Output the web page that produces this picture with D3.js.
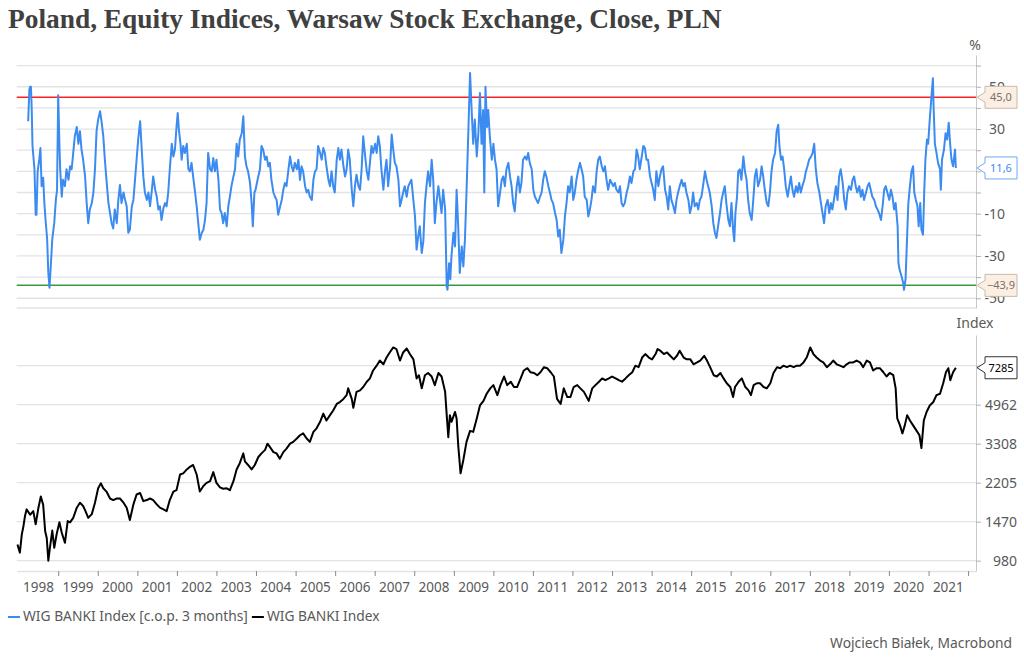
<!DOCTYPE html>
<html><head><meta charset="utf-8">
<script src="https://cdn.jsdelivr.net/npm/d3@7"></script>
<style>
body{margin:0;background:#fff}
svg{display:block}
text{font-family:"Noto Sans","Open Sans",sans-serif}
</style>
</head><body>
<svg id="chart" width="1024" height="663"></svg>
<script>
const titleText = "Poland, Equity Indices, Warsaw Stock Exchange, Close, PLN";
const sourceText = "Wojciech Białek, Macrobond";
const legendLabels = ["WIG BANKI Index [c.o.p. 3 months]", "WIG BANKI Index"];
const yearLabels = [1998,1999,2000,2001,2002,2003,2004,2005,2006,2007,2008,2009,2010,2011,2012,2013,2014,2015,2016,2017,2018,2019,2020,2021];
const yearTicks = [1999,2000,2001,2002,2003,2004,2005,2006,2007,2008,2009,2010,2011,2012,2013,2014,2015,2016,2017,2018,2019,2020,2021,2022];
const pctGrid = [60,50,40,30,20,10,0,-10,-20,-30,-40,-50];
const pctLabels = [50,30,-10,-30,-50];      // 10 is hidden behind the last-value tag
const idxTicks = [980,1470,2205,3308,4962,7443];
const idxLabels = [980,1470,2205,3308,4962]; // 7443 is hidden behind the last-value tag
const pctBands = [45.0, -43.9];
const pctLast = 11.6;
const idxLast = 7285;

// 3-month change, % (decimal year, value)
const pctSeries = [
[1998.24,33.7],[1998.27,48.6],[1998.29,50],[1998.31,50],[1998.33,39.5],[1998.35,22],[1998.40,11],[1998.43,-10.5],[1998.45,-10.5],[1998.48,10],[1998.52,15.5],[1998.55,21],[1998.58,3],[1998.62,7],[1998.65,-5],[1998.68,-13],[1998.72,-22],[1998.75,-38],[1998.78,-45],[1998.82,-32],[1998.85,-22],[1998.90,-14.5],[1998.94,-3.5],[1998.97,1],
[1999.00,46],[1999.03,23],[1999.05,11],[1999.09,-2],[1999.12,6],[1999.17,3],[1999.21,11],[1999.26,6],[1999.30,12.4],[1999.34,11],[1999.38,18.7],[1999.42,26.6],[1999.47,31],[1999.51,23],[1999.55,29],[1999.59,20.3],[1999.63,15.5],[1999.68,7.6],[1999.72,-5],[1999.76,-14.5],[1999.80,-8],[1999.85,-5],[1999.89,0],[1999.93,11],[1999.97,29],
[2000.01,34.5],[2000.06,38.4],[2000.10,33],[2000.14,26.6],[2000.18,15.5],[2000.22,6],[2000.27,-5],[2000.31,-9.7],[2000.35,-14.5],[2000.39,-17],[2000.43,-8],[2000.48,-14.5],[2000.52,-3.5],[2000.56,3.6],[2000.60,-5],[2000.65,0],[2000.69,-3.5],[2000.73,-6.5],[2000.77,-19],[2000.81,-17.6],[2000.86,-6.5],[2000.90,-3.5],[2000.94,6],[2000.98,15.5],
[2001.02,25],[2001.07,33.7],[2001.11,20.3],[2001.15,7.6],[2001.19,0],[2001.24,-3.5],[2001.28,0],[2001.32,-6.5],[2001.36,0],[2001.40,7.6],[2001.45,1.3],[2001.49,-2],[2001.53,-8],[2001.57,-6.5],[2001.61,-13],[2001.66,-7.3],[2001.70,-5],[2001.74,-6.5],[2001.78,0],[2001.82,11],[2001.87,23],[2001.91,17],[2001.95,20.3],[2001.99,31],
[2002.02,37.6],[2002.05,29.7],[2002.09,23],[2002.12,15.5],[2002.16,22],[2002.20,18.7],[2002.25,23],[2002.29,11],[2002.33,10],[2002.37,14],[2002.41,7.6],[2002.46,0],[2002.50,-6.5],[2002.54,-14.5],[2002.58,-22.3],[2002.63,-19],[2002.67,-17.6],[2002.71,-13],[2002.75,-5],[2002.79,18.7],[2002.84,11],[2002.88,10],[2002.92,16.3],[2002.96,10],
[2003.00,15.5],[2003.05,6],[2003.09,-8],[2003.13,-9.7],[2003.17,-14.5],[2003.21,-9.7],[2003.26,-16],[2003.30,-6.5],[2003.34,-2],[2003.38,3],[2003.43,7.6],[2003.47,11],[2003.51,23],[2003.55,17],[2003.59,25],[2003.64,28],[2003.68,36],[2003.72,17],[2003.76,12.4],[2003.80,10],[2003.85,4.5],[2003.89,-5],[2003.92,-16],[2003.96,0],[2003.99,1.3],
[2004.04,6],[2004.10,11],[2004.14,22],[2004.18,20.3],[2004.23,15.5],[2004.27,17],[2004.31,12.4],[2004.35,14],[2004.39,6],[2004.44,0],[2004.48,-2],[2004.52,-3.5],[2004.56,-10.5],[2004.61,-6.5],[2004.65,-3.5],[2004.69,1.3],[2004.73,4.5],[2004.77,3],[2004.82,11],[2004.86,17],[2004.90,12.4],[2004.94,10],[2004.98,14],
[2005.03,11],[2005.07,15.5],[2005.11,6],[2005.15,12.4],[2005.19,10],[2005.24,3],[2005.28,0],[2005.32,1.3],[2005.36,-2],[2005.41,-3.5],[2005.45,6],[2005.49,10],[2005.53,11],[2005.57,22],[2005.62,18.7],[2005.66,15.5],[2005.70,21],[2005.74,18.7],[2005.78,12.4],[2005.83,6],[2005.87,3],[2005.91,10],[2005.95,3],[2005.99,0],
[2006.04,15.5],[2006.08,21],[2006.12,15.5],[2006.16,20.3],[2006.21,12.4],[2006.25,7.6],[2006.29,11],[2006.33,20.3],[2006.37,15.5],[2006.42,1.3],[2006.46,-6.5],[2006.50,3],[2006.54,8.4],[2006.59,3],[2006.63,1.3],[2006.67,11],[2006.71,26.6],[2006.75,18.7],[2006.80,10],[2006.84,6],[2006.88,14],[2006.92,22],[2006.96,18.7],
[2007.01,23],[2007.05,18.7],[2007.09,26.6],[2007.13,22],[2007.17,11],[2007.22,1.3],[2007.26,10],[2007.30,15.5],[2007.34,3],[2007.39,12.4],[2007.43,27.4],[2007.47,20.3],[2007.51,14],[2007.55,12.4],[2007.60,6],[2007.64,-6.5],[2007.68,-3.5],[2007.72,0],[2007.76,3],[2007.81,-2],[2007.85,3],[2007.89,4.5],[2007.93,6],[2007.97,-2],
[2008.02,-11.3],[2008.06,-27],[2008.10,-20.8],[2008.14,-16],[2008.19,-28.6],[2008.23,-23],[2008.27,-5],[2008.31,3],[2008.35,10],[2008.40,3],[2008.44,15.5],[2008.48,6],[2008.52,-14.5],[2008.56,-5],[2008.61,3],[2008.65,-3.5],[2008.69,-9.7],[2008.73,1.3],[2008.78,-8],[2008.82,-44.4],[2008.84,-46],[2008.88,-33.4],[2008.91,-41],[2008.94,-30],[2008.99,-19],
[2009.03,-25.5],[2009.07,1.3],[2009.11,-16],[2009.15,-38],[2009.20,-25.5],[2009.24,-35],[2009.28,-22.3],[2009.32,0],[2009.37,31],[2009.41,56.5],[2009.45,39],[2009.49,23],[2009.53,34.5],[2009.58,17],[2009.62,28],[2009.66,47],[2009.70,23],[2009.74,39],[2009.77,0],[2009.80,50],[2009.84,31],[2009.87,39],[2009.91,26.6],[2009.96,15.5],[2010.00,23],
[2010.04,15.5],[2010.08,11],[2010.12,-6.5],[2010.17,0],[2010.21,6],[2010.25,7.6],[2010.29,3],[2010.33,11],[2010.38,14],[2010.42,7.6],[2010.46,3],[2010.50,-5],[2010.54,-9],[2010.59,3],[2010.63,7.6],[2010.67,0],[2010.71,4.5],[2010.75,15.5],[2010.80,17],[2010.84,15.5],[2010.88,18.7],[2010.92,14],[2010.97,11],
[2011.01,1.3],[2011.05,-2],[2011.09,-3.5],[2011.13,-5],[2011.18,-2],[2011.22,0],[2011.26,6],[2011.30,10],[2011.34,7.6],[2011.39,3],[2011.43,0],[2011.47,-3.5],[2011.51,-5],[2011.56,-9.7],[2011.60,-13],[2011.64,-20.8],[2011.68,-17.6],[2011.72,-28.6],[2011.77,-22.3],[2011.81,-11.3],[2011.85,-5],[2011.89,3],[2011.93,0],[2011.98,7.6],
[2012.02,-3.5],[2012.06,0],[2012.10,6],[2012.15,11],[2012.19,14],[2012.23,11],[2012.27,7.6],[2012.31,-2],[2012.36,-3.5],[2012.40,-11.3],[2012.44,-8],[2012.48,-3.5],[2012.52,3],[2012.57,0],[2012.61,10],[2012.65,15.5],[2012.69,17],[2012.74,12.4],[2012.78,10],[2012.82,12.4],[2012.86,6],[2012.90,1.3],[2012.95,6],[2012.99,4.5],
[2013.03,3],[2013.07,4.5],[2013.11,1.3],[2013.16,0],[2013.20,3],[2013.24,-5],[2013.28,-6.5],[2013.32,-5],[2013.37,0],[2013.41,3],[2013.45,7.6],[2013.49,4.5],[2013.54,10],[2013.58,11],[2013.62,20.3],[2013.66,17],[2013.70,11],[2013.75,17],[2013.79,22],[2013.83,21],[2013.87,15.5],[2013.91,15.5],[2013.96,7.6],[2014.00,4.5],
[2014.04,1.3],[2014.08,-3.5],[2014.12,10],[2014.17,3],[2014.21,7.6],[2014.25,11],[2014.29,12.4],[2014.34,1.3],[2014.38,-2],[2014.42,-8],[2014.46,3],[2014.50,-3.5],[2014.55,-6.5],[2014.59,-9.7],[2014.63,-3.5],[2014.67,0],[2014.71,3],[2014.76,6],[2014.80,3],[2014.84,4.5],[2014.88,0],[2014.93,-3.5],[2014.97,-9.7],
[2015.01,-6.5],[2015.05,0],[2015.09,-6.5],[2015.14,-5],[2015.18,-8],[2015.22,-3.5],[2015.26,-2],[2015.30,3],[2015.35,10],[2015.39,6],[2015.43,3],[2015.47,0],[2015.52,-6.5],[2015.56,-14.5],[2015.60,-19],[2015.64,-21.5],[2015.68,-16],[2015.73,-9.7],[2015.77,-3.5],[2015.81,0],[2015.85,3],[2015.89,-5],[2015.94,-13],[2015.98,-16],
[2016.02,-5],[2016.06,-17.6],[2016.09,-23],[2016.12,-9.7],[2016.16,-2],[2016.19,10],[2016.23,11],[2016.27,6],[2016.32,17],[2016.36,10],[2016.40,6],[2016.44,-3.5],[2016.48,-9.7],[2016.53,-13],[2016.57,-3.5],[2016.61,7.6],[2016.65,11],[2016.69,3],[2016.74,6],[2016.78,12.4],[2016.82,7.6],[2016.86,1.3],[2016.91,-5],[2016.95,-6.5],[2016.99,0],
[2017.03,10],[2017.07,15.5],[2017.12,18.7],[2017.16,29],[2017.20,32],[2017.23,22],[2017.27,15.5],[2017.31,17],[2017.35,11],[2017.39,3],[2017.44,-2],[2017.48,3],[2017.52,7.6],[2017.56,1.3],[2017.60,-2],[2017.65,3],[2017.69,0],[2017.73,4.5],[2017.77,0],[2017.81,3],[2017.86,6],[2017.90,10],[2017.94,12.4],[2017.98,15.5],
[2018.03,17],[2018.07,18.7],[2018.11,23],[2018.15,11],[2018.19,4.5],[2018.24,0],[2018.28,-5],[2018.32,-9.7],[2018.36,-14.5],[2018.40,-6.5],[2018.45,-3.5],[2018.49,-9.7],[2018.53,-5],[2018.57,-8],[2018.62,-2],[2018.66,3],[2018.70,-3.5],[2018.74,7.6],[2018.78,11],[2018.83,4.5],[2018.87,-3.5],[2018.91,-8],[2018.95,0],[2018.99,3],
[2019.04,1.3],[2019.08,6],[2019.12,7.6],[2019.16,3],[2019.20,0],[2019.25,3],[2019.29,-2],[2019.33,1.3],[2019.37,-3.5],[2019.42,0],[2019.46,3],[2019.50,4.5],[2019.54,1.3],[2019.58,-2],[2019.63,-3.5],[2019.67,-6.5],[2019.71,-8],[2019.75,-9.7],[2019.80,-13],[2019.84,-6.5],[2019.88,1.3],[2019.92,3],[2019.96,0],
[2020.01,-3.5],[2020.05,1.3],[2020.09,-2],[2020.13,-8],[2020.17,-5],[2020.22,-16],[2020.24,-33.4],[2020.27,-36.5],[2020.32,-39.7],[2020.36,-42.8],[2020.38,-46],[2020.42,-41],[2020.45,-25.5],[2020.49,-5],[2020.53,3],[2020.57,10],[2020.61,12.4],[2020.64,0],[2020.68,-3.5],[2020.72,-6.5],[2020.75,-16],[2020.79,-5],[2020.82,-17.6],[2020.86,-20],[2020.89,0],[2020.92,15.5],[2020.96,25],[2020.99,23],
[2021.03,34.5],[2021.08,47],[2021.11,54],[2021.13,39],[2021.16,23],[2021.20,18.7],[2021.24,14],[2021.29,11],[2021.31,1.3],[2021.34,15.5],[2021.39,20.3],[2021.43,28],[2021.47,25],[2021.51,33],[2021.55,22],[2021.58,15.5],[2021.62,12.4],[2021.67,20.3],[2021.69,11.6]
];

// index level (decimal year, value)
const idxSeries = [
[1997.97,1160],[1998.03,1065],[1998.08,1290],[1998.12,1400],[1998.16,1560],[1998.20,1670],[1998.29,1580],[1998.37,1640],[1998.43,1430],[1998.50,1700],[1998.56,1910],[1998.62,1750],[1998.67,1330],[1998.71,1240],[1998.75,980],[1998.79,1120],[1998.85,1340],[1998.90,1120],[1998.96,1290],
[1999.03,1460],[1999.09,1310],[1999.17,1180],[1999.24,1480],[1999.30,1460],[1999.38,1530],[1999.47,1700],[1999.55,1790],[1999.63,1730],[1999.69,1640],[1999.76,1530],[1999.85,1590],[1999.93,1790],
[2000.01,2080],[2000.08,2190],[2000.14,2080],[2000.22,2010],[2000.31,1870],[2000.39,1840],[2000.48,1870],[2000.56,1870],[2000.65,1790],[2000.73,1700],[2000.81,1495],[2000.90,1760],[2000.98,1950],
[2001.07,1980],[2001.15,1820],[2001.24,1840],[2001.32,1870],[2001.40,1840],[2001.49,1760],[2001.57,1700],[2001.66,1670],[2001.74,1640],[2001.82,1840],[2001.91,2010],[2001.99,2040],
[2002.08,2400],[2002.16,2430],[2002.25,2530],[2002.33,2600],[2002.41,2650],[2002.50,2400],[2002.58,2010],[2002.67,2130],[2002.75,2200],[2002.84,2240],[2002.92,2460],[2003.00,2200],
[2003.09,2100],[2003.17,2070],[2003.26,2080],[2003.34,2040],[2003.43,2240],[2003.51,2530],[2003.59,2700],[2003.68,2990],[2003.72,2750],[2003.80,2650],[2003.89,2530],[2003.97,2650],
[2004.06,2880],[2004.14,2990],[2004.23,3100],[2004.29,3308],[2004.35,3200],[2004.44,3030],[2004.52,2990],[2004.60,2830],[2004.69,3030],[2004.77,3140],[2004.86,3308],[2004.94,3370],
[2005.03,3490],[2005.11,3610],[2005.19,3680],[2005.28,3490],[2005.36,3370],[2005.45,3740],[2005.53,3880],[2005.62,4150],[2005.70,4520],[2005.78,4210],[2005.87,4450],[2005.95,4670],
[2006.04,5000],[2006.12,5100],[2006.21,5270],[2006.29,5480],[2006.33,5880],[2006.42,5270],[2006.46,4800],[2006.54,5670],[2006.63,5760],[2006.71,5960],[2006.80,6300],[2006.88,6520],[2006.96,7080],
[2007.05,7443],[2007.13,7850],[2007.22,7550],[2007.30,8100],[2007.38,8540],[2007.47,9000],[2007.55,8850],[2007.64,7850],[2007.72,8540],[2007.81,8900],[2007.89,8400],[2007.98,7950],
[2008.06,6520],[2008.12,6740],[2008.19,5880],[2008.27,6740],[2008.35,6900],[2008.44,6650],[2008.52,6080],[2008.61,6900],[2008.69,6650],[2008.78,5670],[2008.82,4450],[2008.86,3540],[2008.90,4450],[2008.94,4150],
[2009.03,4600],[2009.07,4300],[2009.11,3260],[2009.17,2430],[2009.24,2790],[2009.32,3370],[2009.41,3780],[2009.49,3740],[2009.58,4300],[2009.66,4920],[2009.75,5160],[2009.83,5560],[2009.92,5880],[2010.00,6080],
[2010.10,5480],[2010.18,6080],[2010.27,6650],[2010.35,6080],[2010.44,6300],[2010.52,5960],[2010.60,5960],[2010.69,6520],[2010.77,7080],[2010.86,7250],[2010.94,6950],
[2011.03,6900],[2011.11,6740],[2011.19,6950],[2011.28,7330],[2011.36,7250],[2011.45,6950],[2011.53,6650],[2011.61,5270],[2011.70,5000],[2011.78,5880],[2011.87,5370],[2011.95,5370],
[2012.03,5960],[2012.12,6080],[2012.20,5880],[2012.29,5670],[2012.41,5160],[2012.50,5880],[2012.58,6080],[2012.67,6300],[2012.75,6520],[2012.83,6400],[2012.92,6520],
[2013.00,6650],[2013.09,6520],[2013.17,6400],[2013.25,6300],[2013.34,6520],[2013.42,6740],[2013.51,6950],[2013.59,7443],[2013.67,7330],[2013.76,8100],[2013.84,8400],[2013.93,8100],
[2014.01,7950],[2014.10,8400],[2014.15,8850],[2014.22,8700],[2014.31,8400],[2014.39,8540],[2014.47,8250],[2014.56,7950],[2014.64,8250],[2014.71,8700],[2014.81,8100],[2014.89,7950],[2014.98,7950],
[2015.06,7550],[2015.15,7700],[2015.23,7850],[2015.33,8250],[2015.40,7850],[2015.48,7330],[2015.57,6740],[2015.65,6650],[2015.74,6900],[2015.82,6520],[2015.90,6200],[2015.99,5960],
[2016.06,5370],[2016.11,5960],[2016.20,6300],[2016.28,6520],[2016.37,5960],[2016.45,5760],[2016.51,5480],[2016.58,6080],[2016.66,6200],[2016.74,6200],[2016.83,5960],[2016.91,5880],
[2017.00,6200],[2017.08,6900],[2017.17,7330],[2017.25,7250],[2017.33,7443],[2017.42,7330],[2017.50,7443],[2017.59,7330],[2017.67,7443],[2017.75,7443],[2017.84,7700],[2017.92,8100],
[2018.01,9000],[2018.09,8400],[2018.17,8100],[2018.26,7850],[2018.34,7700],[2018.43,7330],[2018.51,7550],[2018.59,7850],[2018.68,7550],[2018.76,7443],[2018.85,7330],[2018.93,7550],
[2019.01,7700],[2019.10,7700],[2019.18,7850],[2019.27,7700],[2019.35,7330],[2019.44,7850],[2019.52,7700],[2019.60,7080],[2019.69,7250],[2019.77,7250],[2019.86,6950],[2019.94,6650],
[2020.02,6900],[2020.11,6740],[2020.17,5880],[2020.21,4300],[2020.28,4000],[2020.34,3680],[2020.40,4000],[2020.46,4450],[2020.53,4210],[2020.61,4000],[2020.70,3780],[2020.77,3610],[2020.82,3160],[2020.88,4210],[2020.95,4600],
[2021.03,4920],[2021.12,5100],[2021.20,5480],[2021.29,5560],[2021.37,6200],[2021.44,6950],[2021.50,7250],[2021.55,6400],[2021.62,6950],[2021.69,7285]
];

const colors = {blue:"#3b8bf0", black:"#000", red:"#ff2020", green:"#3c9a3c", grid:"#e3e3e3", axis:"#c8c8c8", text:"#595959"};

function decYear(t){
  const y = Math.floor(t + 1e-9);
  const a = new Date(y,0,1), b = new Date(y+1,0,1);
  return new Date(+a + (t - y) * (b - a));
}

const svg = d3.select("#chart");
const left = 16.7, right = 976;
const x = d3.scaleTime().domain([decYear(1997.95), decYear(2022.2)]).range([left, right]);
const yTop = d3.scaleLinear().domain([-54.6, 65]).range([308, 55]);
const yBot = d3.scaleLog().domain([880, 10240]).range([571, 335]);

// Title
const title = svg.append("text").attr("x", 8).attr("y", 28)
  .attr("fill", "#404040").style("font-family", "'Liberation Serif','DejaVu Serif',serif")
  .style("font-weight", "bold").style("font-size", "24px").text(titleText);
const tw = title.node().getComputedTextLength();
title.style("font-size", (24 * 714 / tw) + "px");

// Gridlines
const gTop = svg.append("g");
gTop.selectAll("line.grid").data(pctGrid).join("line")
  .attr("x1", left).attr("x2", right)
  .attr("y1", d => yTop(d)).attr("y2", d => yTop(d))
  .attr("stroke", colors.grid).attr("stroke-width", 1.3);
gTop.append("line").attr("x1", left).attr("x2", right).attr("y1", yTop.range()[0]).attr("y2", yTop.range()[0])
  .attr("stroke", colors.grid).attr("stroke-width", 1.3);

const gBot = svg.append("g");
gBot.selectAll("line.grid").data(idxTicks).join("line")
  .attr("x1", left).attr("x2", right)
  .attr("y1", d => yBot(d)).attr("y2", d => yBot(d))
  .attr("stroke", colors.grid).attr("stroke-width", 1.3);

// Band lines
svg.append("line").attr("x1", left).attr("x2", right).attr("y1", yTop(pctBands[0])).attr("y2", yTop(pctBands[0]))
  .attr("stroke", colors.red).attr("stroke-width", 1.5);
svg.append("line").attr("x1", left).attr("x2", right).attr("y1", yTop(pctBands[1])).attr("y2", yTop(pctBands[1]))
  .attr("stroke", colors.green).attr("stroke-width", 1.5);

// Series
const lineTop = d3.line().x(d => x(decYear(d[0]))).y(d => yTop(d[1]));
const lineBot = d3.line().x(d => x(decYear(d[0]))).y(d => yBot(d[1]));
svg.append("path").datum(pctSeries).attr("d", lineTop).attr("fill", "none")
  .attr("stroke", colors.blue).attr("stroke-width", 2).attr("stroke-linejoin", "round");
svg.append("path").datum(idxSeries).attr("d", lineBot).attr("fill", "none")
  .attr("stroke", colors.black).attr("stroke-width", 2).attr("stroke-linejoin", "round");

// Right axes
const axTop = svg.append("g").attr("transform", `translate(${right},0)`)
  .call(d3.axisRight(yTop).tickValues(pctGrid).tickSize(5).tickSizeOuter(0).tickFormat(d => pctLabels.includes(d) ? d : ""));
const axBot = svg.append("g").attr("transform", `translate(${right},0)`)
  .call(d3.axisRight(yBot).tickValues(idxTicks).tickSize(5).tickSizeOuter(0).tickFormat(d => idxLabels.includes(d) ? d : ""));
[axTop, axBot].forEach(a => {
  a.select(".domain").attr("stroke", colors.axis);
  a.selectAll(".tick line").attr("stroke", "#b0b0b0");
  a.selectAll(".tick text").attr("fill", colors.text).style("font-size", "14px").attr("text-anchor", "end");
});
axTop.selectAll(".tick text").attr("x", 29);
axBot.selectAll(".tick text").attr("x", 41);

svg.append("text").attr("x", 975).attr("y", 50).attr("text-anchor", "middle")
  .attr("fill", colors.text).style("font-size", "14px").text("%");
svg.append("text").attr("x", 975).attr("y", 328).attr("text-anchor", "middle")
  .attr("fill", colors.text).style("font-size", "14px").text("Index");

// Bottom time axis
const axX = svg.append("g").attr("transform", `translate(0,${yBot.range()[0]})`)
  .call(d3.axisBottom(x).tickValues(yearTicks.map(y => decYear(y))).tickSize(5).tickSizeOuter(0).tickFormat(""));
axX.select(".domain").attr("stroke", colors.grid).attr("stroke-width", 1.3);
axX.selectAll(".tick line").attr("stroke", "#8a8a8a");
svg.append("g").selectAll("text").data(yearLabels).join("text")
  .attr("x", d => x(decYear(d + 0.5))).attr("y", 592).attr("text-anchor", "middle")
  .attr("fill", colors.text).style("font-size", "13.5px").text(d => d);

// Value tags
function tag(yc, label, fill, stroke, color, weight){
  const tip = 977, bx = 985, bw = 32, h = 22;
  const p = `M${tip},${yc} L${bx},${yc-5} L${bx},${yc-h/2} L${bx+bw},${yc-h/2} L${bx+bw},${yc+h/2} L${bx},${yc+h/2} L${bx},${yc+5} Z`;
  svg.append("path").attr("d", p).attr("fill", fill).attr("stroke", stroke).attr("stroke-width", 1);
  svg.append("text").attr("x", bx + bw/2).attr("y", yc + 4).attr("text-anchor", "middle")
    .attr("fill", color).style("font-size", "11px").style("font-weight", weight || "normal").text(label);
}
const fmt = v => d3.format(".1f")(v).replace(".", ",");
tag(yTop(pctBands[0]), fmt(pctBands[0]), "#fbefe3", "#c9b9a9", "#7a7068");
tag(yTop(pctBands[1]), fmt(pctBands[1]), "#fbefe3", "#c9b9a9", "#7a7068");
tag(yTop(pctLast), fmt(pctLast), "#ffffff", "#6ea8f7", colors.blue);
tag(yBot(idxLast), String(idxLast), "#ffffff", "#333", "#000");

// Legend
const lg = svg.append("g");
lg.append("line").attr("x1", 8).attr("x2", 20).attr("y1", 617).attr("y2", 617).attr("stroke", colors.blue).attr("stroke-width", 2);
const l1 = lg.append("text").attr("x", 23).attr("y", 621).attr("fill", colors.text).style("font-size", "13.8px").text(legendLabels[0]);
const w1 = l1.node().getComputedTextLength();
lg.append("line").attr("x1", 23 + w1 + 4).attr("x2", 23 + w1 + 16).attr("y1", 617).attr("y2", 617).attr("stroke", "#000").attr("stroke-width", 2);
lg.append("text").attr("x", 23 + w1 + 19).attr("y", 621).attr("fill", colors.text).style("font-size", "13.8px").text(legendLabels[1]);

// Source
svg.append("text").attr("x", 1012).attr("y", 648).attr("text-anchor", "end")
  .attr("fill", colors.text).style("font-size", "13.8px").text(sourceText);
</script>
</body></html>
